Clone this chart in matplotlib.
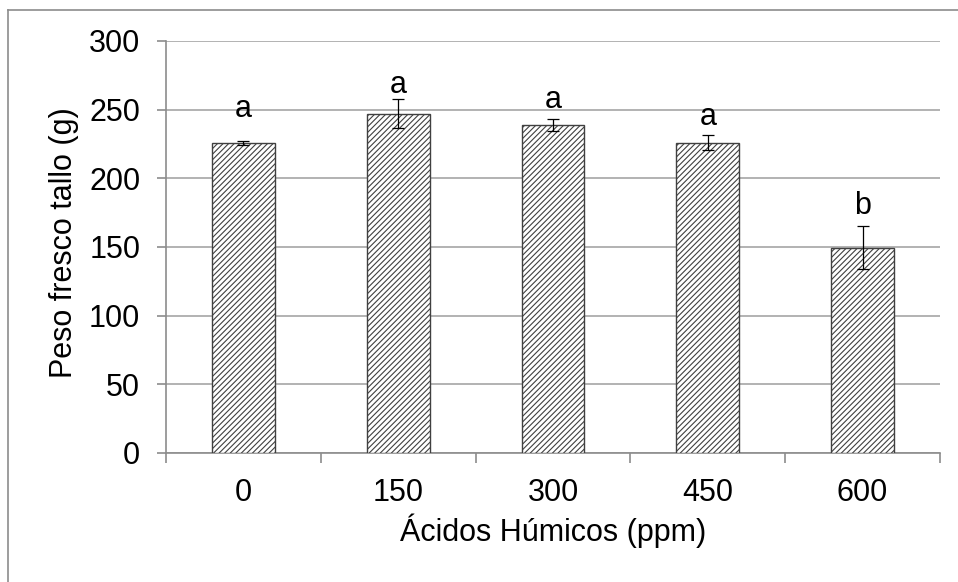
import numpy as np
import matplotlib
matplotlib.use("Agg")
from matplotlib import pyplot as plt
from matplotlib.lines import Line2D

plt.rcParams['font.family'] = ['Liberation Sans', 'DejaVu Sans']
plt.rcParams['hatch.linewidth'] = 0.8
plt.rcParams['hatch.color'] = '#222222'

dosis = ['0', '150', '300', '450', '600']
peso = [226, 247, 239, 226, 149.5]
error = [1.5, 10.5, 4.5, 5.5, 15.5]
letras = ['a', 'a', 'a', 'a', 'b']
pos_letras = [245, 262, 251, 239, 174]

fig = plt.figure(figsize=(9.58, 5.82), dpi=100)
ax = fig.add_axes([166/958, 1-453/582, (940-166)/958, (453-41)/582])

x = np.arange(len(dosis))
ax.bar(x, peso, width=0.405, color='white', edgecolor='#404040', linewidth=1.0,
       hatch='//////', zorder=3)
ax.errorbar(x, peso, yerr=error, fmt='none', ecolor='black', elinewidth=0.9,
            capsize=4, capthick=0.9, zorder=4)
for xx, l, yy in zip(x, letras, pos_letras):
    ax.text(xx, yy, l, ha='center', va='baseline', fontsize=22, zorder=5)

ax.set_xlim(-0.5, 4.5)
ax.set_ylim(0, 300)
ax.set_yticks(np.arange(0, 301, 50))
ax.set_xticks(x)
ax.set_xticklabels(dosis)
ax.set_xticks(np.arange(-0.5, 4.6, 1), minor=True)
ax.yaxis.grid(True, color='#a6a6a6', linewidth=1.2, zorder=0)
ax.set_axisbelow(True)

for s in ['top', 'right']:
    ax.spines[s].set_visible(False)
for s in ['left', 'bottom']:
    ax.spines[s].set_color('#8c8c8c')
    ax.spines[s].set_linewidth(1.2)

ax.tick_params(axis='x', which='major', length=0, pad=18, labelsize=22)
ax.tick_params(axis='x', which='minor', length=7, width=1.2, color='#8c8c8c', direction='out')
ax.tick_params(axis='y', length=6.5, width=1.2, color='#8c8c8c', pad=12, labelsize=22)

ax.set_xlabel('Ácidos Húmicos (ppm)', fontsize=22, labelpad=4)
ax.set_ylabel('Peso fresco tallo (g)', fontsize=22, labelpad=10)
ax.yaxis.set_label_coords(-0.112, 0.51)

fig.add_artist(Line2D([8/958, 8/958], [0, 1-10/582], color='#8c8c8c', linewidth=1.2))
fig.add_artist(Line2D([8/958, 1], [1-10/582, 1-10/582], color='#8c8c8c', linewidth=1.2))

fig.savefig('out.png', dpi=100)
